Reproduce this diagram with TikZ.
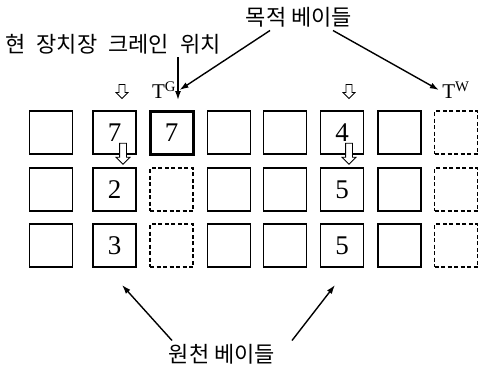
\documentclass[tikz,border=0pt]{standalone}
\usepackage{fontspec}
\setmainfont{Liberation Serif}
\newfontfamily\kr{Noto Sans CJK KR}
\usetikzlibrary{shapes.arrows,arrows.meta}

\tikzset{
  bay/.style={draw,line width=1.4pt,minimum size=43pt,inner sep=0pt,font=\fontsize{27}{27}\selectfont},
  goalbay/.style={bay,line width=3pt},
  freebay/.style={bay,dash pattern=on 4pt off 2.5pt},
  move/.style={single arrow,draw,fill=white,line width=0.8pt,inner sep=3pt,
    single arrow head extend=3.5pt,minimum height=21pt,shape border rotate=270},
  smallmove/.style={move,inner sep=2.6pt,single arrow head extend=3pt,minimum height=14pt},
  kortext/.style={font=\kr\fontsize{22}{26}\selectfont},
  tag/.style={font=\fontsize{21}{21}\selectfont},
  pointer/.style={-{Latex[length=9pt,width=6pt]},line width=1.4pt},
}

\begin{document}
\begin{tikzpicture}[x=1pt,y=-1pt]
  \useasboundingbox (0,0) rectangle (478,376);
  % plain bays
  \foreach \c/\x in {1/51,4/229,5/285,7/399.5}
    \foreach \r/\y in {1/132.5,2/189.5,3/245.5}
      \node[bay] (b\r\c) at (\x,\y) {};
  % bays with containers
  \foreach \r/\y/\n in {1/132.5/7,2/189.5/2,3/245.5/3}
    \node[bay] (b\r2) at (114.5,\y) {\n};
  \foreach \r/\y/\n in {1/132.5/4,2/189.5/5,3/245.5/5}
    \node[bay] (b\r6) at (342,\y) {\n};
  % target bays
  \node[goalbay] (b13) at (171.5,132.5) {7};
  \node[freebay] (b23) at (171.5,189.5) {};
  \node[freebay] (b33) at (171.5,245.5) {};
  \foreach \r/\y in {1/132.5,2/189.5,3/245.5}
    \node[freebay] (b\r8) at (456,\y) {};
  % moves
  \node[smallmove] (m1) at (122,90) {};
  \node[smallmove] (m2) at (349,90) {};
  \node[move] (m3) at (123,152) {};
  \node[move] (m4) at (349,152) {};
  % labels
  \node[tag] (tg) at (164,90) {T\textsuperscript{G}};
  \node[tag] (tw) at (456,90) {T\textsuperscript{W}};
  \node[kortext] (target) at (299,17) {목적 베이들};
  \node[kortext] (crane) at (113,44) {현\hspace{0.5em}장치장\hspace{0.5em}크레인\hspace{0.5em}위치};
  \node[kortext] (source) at (222,354) {원천 베이들};
  \coordinate (cranetip) at (178,100);
  \coordinate (lefttip) at (122,285);
  \coordinate (righttip) at (335,285);
  \draw[pointer] (crane.south -| cranetip) -- (cranetip);
  \draw[pointer] ([xshift=-29pt]target.south) -- (tg.east);
  \draw[pointer] ([xshift=34pt]target.south) -- (tw.west);
  \draw[pointer] ([xshift=-50pt]source.north) -- (lefttip);
  \draw[pointer] ([xshift=70pt]source.north) -- (righttip);
\end{tikzpicture}
\end{document}
